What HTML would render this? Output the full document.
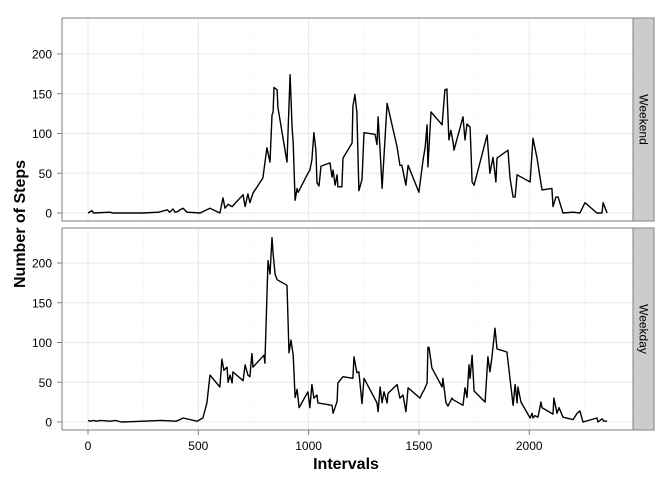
<!DOCTYPE html>
<html><head><meta charset="utf-8"><style>
body{margin:0;background:#fff;font-family:"Liberation Sans",sans-serif}
svg text{font-family:"Liberation Sans",sans-serif}
</style></head><body>
<svg id="chart" width="672" height="480">
<g id="grid"></g>
<g id="series"></g>
<g id="axes"></g>
<text x="346" y="469" text-anchor="middle" font-size="16" font-weight="bold">Intervals</text>
<text transform="translate(25,224) rotate(-90)" text-anchor="middle" font-size="16" font-weight="bold">Number of Steps</text>
</svg>
<script>
const panelNames=["Weekend","Weekday"];
const xTicks=[0,500,1000,1500,2000];
const yTicks=[0,50,100,150,200];
const weekendX=[0,18,25,100,110,250,320,360,370,385,395,408,417,431,449,508,530,553,598,612,621,635,653,703,712,725,734,748,793,811,825,834,839,843,857,861,902,907,916,925,930,939,948,953,997,1006,1015,1024,1033,1038,1047,1056,1097,1106,1111,1120,1129,1133,1151,1156,1197,1201,1210,1219,1228,1242,1251,1301,1310,1315,1324,1333,1356,1401,1414,1423,1441,1451,1500,1519,1528,1537,1541,1555,1605,1618,1627,1636,1645,1655,1659,1700,1709,1718,1732,1741,1750,1809,1822,1836,1849,1854,1904,1913,1927,1936,1945,2004,2017,2026,2035,2058,2103,2108,2121,2131,2153,2199,2230,2253,2307,2330,2335,2353];
const weekendY=[0,3,0,1,0,0,1,4,1,5,1,2,4,6,1,0,3,6,0,19,6,11,8,23,8,24,13,25,44,82,64,123,127,158,155,133,64,104,174,107,88,16,31,26,50,54,67,101,79,38,34,59,63,45,54,35,48,33,33,69,88,134,149,126,28,42,101,99,86,121,79,31,138,83,60,60,35,60,26,67,82,111,58,127,111,155,156,92,104,89,79,121,92,112,108,39,35,98,50,70,39,69,79,44,20,20,48,39,94,82,70,29,31,8,20,20,0,1,0,13,0,0,13,0];
const weekdayX=[0,10,25,40,55,100,125,150,250,330,400,417,431,494,521,539,553,598,607,616,630,635,644,653,657,703,712,725,734,743,748,798,802,816,825,834,839,848,857,902,911,920,930,939,948,957,997,1006,1015,1024,1038,1042,1106,1111,1129,1133,1156,1201,1206,1219,1228,1242,1251,1310,1315,1324,1333,1342,1356,1360,1401,1414,1428,1441,1451,1505,1514,1523,1537,1541,1546,1559,1605,1609,1623,1632,1650,1655,1700,1709,1718,1727,1732,1741,1750,1800,1813,1822,1831,1845,1854,1899,1927,1936,1945,1949,1963,2004,2013,2017,2026,2040,2053,2058,2108,2112,2126,2135,2153,2199,2217,2230,2244,2307,2312,2330,2339,2353];
const weekdayY=[2,1,2,1,2,1,2,0,1,2,1,3,5,1,5,24,59,44,79,65,69,50,59,49,63,52,72,59,57,86,69,84,74,203,186,232,212,186,179,172,87,103,84,31,41,18,38,18,47,30,34,24,21,11,26,49,57,55,82,62,63,23,55,24,13,44,24,38,24,36,47,30,34,13,43,30,36,40,49,94,94,68,44,55,24,20,30,28,21,43,31,72,55,84,39,25,82,63,81,118,92,88,21,47,24,44,25,5,11,5,8,6,25,18,10,30,11,18,6,3,11,14,0,5,0,4,1,1];

const NS="http://www.w3.org/2000/svg";
const PL=62,PR=633,SR=654;
const panels=[{top:18,bot:221,base:213},{top:228,bot:430,base:422}];
const xs=v=>88+v*0.2206;
const ys=(p,v)=>p.base-v*0.795;
function mk(tag,attrs,parent){const e=document.createElementNS(NS,tag);for(const k in attrs)e.setAttribute(k,attrs[k]);parent.appendChild(e);return e;}
const grid=document.getElementById('grid'),series=document.getElementById('series'),axes=document.getElementById('axes');
const datasets=[[weekendX,weekendY],[weekdayX,weekdayY]];
panels.forEach((p,i)=>{
  const bg=mk('rect',{x:PL,y:p.top,width:PR-PL,height:p.bot-p.top,fill:'#fff'},grid);
  
  
  // minor grid
  for(let k=0;k<xTicks.length;k++){const v=xTicks[k]+250;const x=xs(v);if(x<PR)mk('line',{x1:x,x2:x,y1:p.top,y2:p.bot,stroke:'#f5f5f5','stroke-width':0.6},grid);}
  for(let k=0;k<yTicks.length;k++){const v=yTicks[k]+25;const y=ys(p,v);if(y>p.top)mk('line',{x1:PL,x2:PR,y1:y,y2:y,stroke:'#f5f5f5','stroke-width':0.6},grid);}
  xTicks.forEach(v=>{const x=xs(v);mk('line',{x1:x,x2:x,y1:p.top,y2:p.bot,stroke:'#e8e8e8','stroke-width':1},grid);});
  yTicks.forEach(v=>{const y=ys(p,v);mk('line',{x1:PL,x2:PR,y1:y,y2:y,stroke:'#e8e8e8','stroke-width':1},grid);
    const t=mk('text',{x:52,y:y+4.5,'text-anchor':'end','font-size':12,fill:'#000'},axes);t.textContent=v;
    
    
    mk('line',{x1:57,x2:PL,y1:y,y2:y,stroke:'#7f7f7f'},axes);});
  const [X,Y]=datasets[i];
  const d=X.map((v,k)=>(k?'L':'M')+xs(v).toFixed(1)+','+ys(p,Y[k]).toFixed(1)).join('');
  const path=mk('path',{d:d,fill:'none',stroke:'#000','stroke-width':1.4,'stroke-linejoin':'round'},series);
  
  
  mk('rect',{x:PL,y:p.top,width:PR-PL,height:p.bot-p.top,fill:'none',stroke:'#7f7f7f','stroke-width':1},axes);
  const st=mk('rect',{x:PR,y:p.top,width:SR-PR,height:p.bot-p.top,fill:'#cccccc',stroke:'#7f7f7f','stroke-width':1},axes);
  
  
  const cy=(p.top+p.bot)/2;
  const lt=mk('text',{transform:'translate('+(PR+10.5-4)+','+cy+') rotate(90)','text-anchor':'middle','font-size':12},axes);
  lt.textContent=panelNames[i];
  
  
});
xTicks.forEach(v=>{const x=xs(v);mk('line',{x1:x,x2:x,y1:430,y2:435,stroke:'#7f7f7f'},axes);
  const t=mk('text',{x:x,y:450,'text-anchor':'middle','font-size':12},axes);t.textContent=v;
  
  });
</script>
</body></html>
